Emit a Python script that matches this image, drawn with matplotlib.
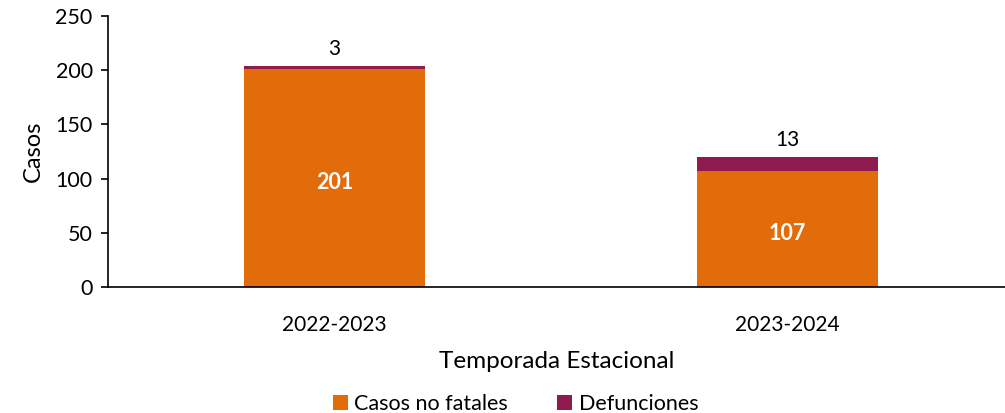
import matplotlib.pyplot as plt

seasons = ["2022-2023", "2023-2024"]
no_fatales = [201, 107]
defunciones = [3, 13]

plt.rcParams['font.family'] = ['Lato', 'DejaVu Sans']

fig = plt.figure(figsize=(10.05, 4.13), dpi=100)
ax = fig.add_axes([108 / 1005, (413 - 287) / 413, 1 - 108 / 1005, 271 / 413])

x = range(len(seasons))
ax.bar(x, no_fatales, width=0.4, color="#E36C0A", label="Casos no fatales")
ax.bar(x, defunciones, width=0.4, bottom=no_fatales, color="#8E1A4F", label="Defunciones")

for i in x:
    ax.text(i, no_fatales[i] / 2 - 4, str(no_fatales[i]), ha="center", va="center",
            color="white", fontsize=15.5, fontweight="bold")
    ax.text(i, no_fatales[i] + defunciones[i] + 6, str(defunciones[i]), ha="center",
            va="bottom", color="black", fontsize=15)

ax.set_xlim(-0.5, 1.48)
ax.set_ylim(0, 250)
ax.set_yticks([0, 50, 100, 150, 200, 250])
ax.set_xticks(list(x))
ax.set_xticklabels(seasons)
ax.tick_params(axis="y", labelsize=15.5, length=5, width=1.2, direction="out", pad=6)
ax.tick_params(axis="x", labelsize=15, length=0, pad=20)
ax.spines["top"].set_visible(False)
ax.spines["right"].set_visible(False)
ax.spines["left"].set_linewidth(1.2)
ax.spines["bottom"].set_linewidth(1.2)
ax.set_ylabel("Casos", fontsize=17, labelpad=8)
ax.set_xlabel("Temporada Estacional", fontsize=17.5, labelpad=12)

fig.legend(loc="lower center", bbox_to_anchor=(0.513, -0.05), ncol=2, frameon=False,
           fontsize=15.5, handlelength=0.7, handleheight=0.7, columnspacing=2.3, handletextpad=0.3)

fig.savefig("out.png", dpi=100)
